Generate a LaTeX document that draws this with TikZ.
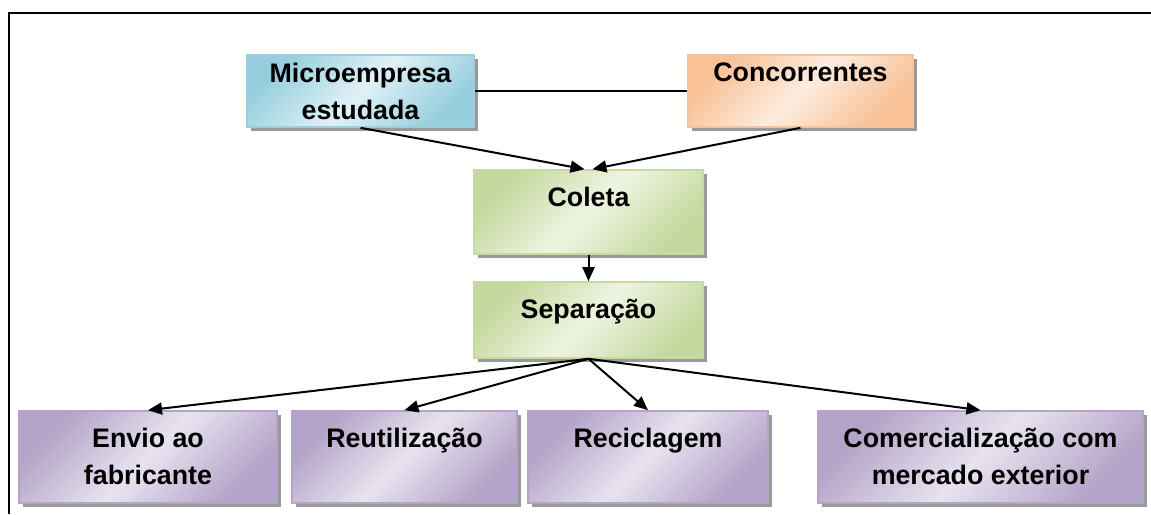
\documentclass[tikz,border=0pt]{standalone}
\usepackage{fontspec}
\setmainfont{Liberation Sans}
\usetikzlibrary{arrows.meta,shadows}
\definecolor{blueedge}{HTML}{96CEDD}
\definecolor{bluelight}{HTML}{E0F1F6}
\definecolor{blueline}{HTML}{9CCFDD}
\definecolor{orangeedge}{HTML}{F8C196}
\definecolor{orangelight}{HTML}{FDECDF}
\definecolor{orangeline}{HTML}{F6C39A}
\definecolor{greenedge}{HTML}{C6D8A0}
\definecolor{greenlight}{HTML}{EEF4E1}
\definecolor{greenline}{HTML}{C6D9A0}
\definecolor{purpleedge}{HTML}{B3A3C8}
\definecolor{purplelight}{HTML}{E8E3EF}
\definecolor{purpleline}{HTML}{B4A4C9}
\begin{document}
\begin{tikzpicture}[x=0.5pt, y=-0.5pt,
    box/.style = {draw=#1line, line width=0.8pt, inner sep=0pt,
        top color=#1edge, bottom color=#1edge, middle color=#1light,
        shading angle=45,
        drop shadow={shadow xshift=2pt, shadow yshift=-2pt, fill=black!40, opacity=1}},
    txt/.style = {anchor=north, inner sep=0pt, align=center,
        font=\fontsize{13.4}{18.5}\selectfont\bfseries},
    arr/.style = {-{Triangle[length=7pt,width=6pt]}, line width=1pt}]
    \useasboundingbox (0,0) rectangle (1151,514);
    \draw[line width=1pt] (1151,13) -| (9,514);

    \node[box=blue, minimum width=113.5pt, minimum height=36pt] (micro) at (360.5,91) {};
    \node[box=orange, minimum width=112.5pt, minimum height=36pt] (conc) at (800.5,91) {};
    \node[txt] (microT) at ([yshift=-4.25pt]micro.north) {Microempresa\\estudada};
    \node[txt] (concT) at ([yshift=-4.25pt]conc.north) {Concorrentes};

    \node[box=green, minimum width=114.5pt, minimum height=42pt] (coleta) at (588.5,212) {};
    \node[box=green, minimum width=114.5pt, minimum height=38pt] (separ) at (588.5,320) {};
    \node[txt] (coletaT) at ([yshift=-8.75pt]coleta.north) {Coleta};
    \node[txt] (separT) at ([yshift=-8.75pt]separ.north) {Separação};

    \node[box=purple, minimum width=129pt, minimum height=46pt] (envio) at (148,457) {};
    \node[box=purple, minimum width=112.5pt, minimum height=46pt] (reut) at (404.5,457) {};
    \node[box=purple, minimum width=120pt, minimum height=46pt] (recic) at (648,457) {};
    \node[box=purple, minimum width=162.5pt, minimum height=46pt] (comer) at (980.5,457) {};
    \node[txt] (envioT) at ([yshift=-8.75pt]envio.north) {Envio ao\\fabricante};
    \node[txt] (reutT) at ([yshift=-8.75pt]reut.north) {Reutilização};
    \node[txt] (recicT) at ([yshift=-8.75pt]recic.north) {Reciclagem};
    \node[txt] (comerT) at ([yshift=-8.75pt]comer.north) {Comercialização com\\mercado exterior};

    \draw[line width=0.8pt] (micro.east) -- (conc.west);
    \draw[arr] (micro.south) -- ([xshift=-2pt]coleta.north);
    \draw[arr] (conc.south) -- ([xshift=2pt]coleta.north);
    \draw[arr] (coleta.south) -- (separ.north);

    \draw[arr] (separ.south) -- (envio.north);
    \draw[arr] (separ.south) -- (reut.north);
    \draw[arr] (separ.south) -- (recic.north);
    \draw[arr] (separ.south) -- (comer.north);
\end{tikzpicture}
\end{document}
